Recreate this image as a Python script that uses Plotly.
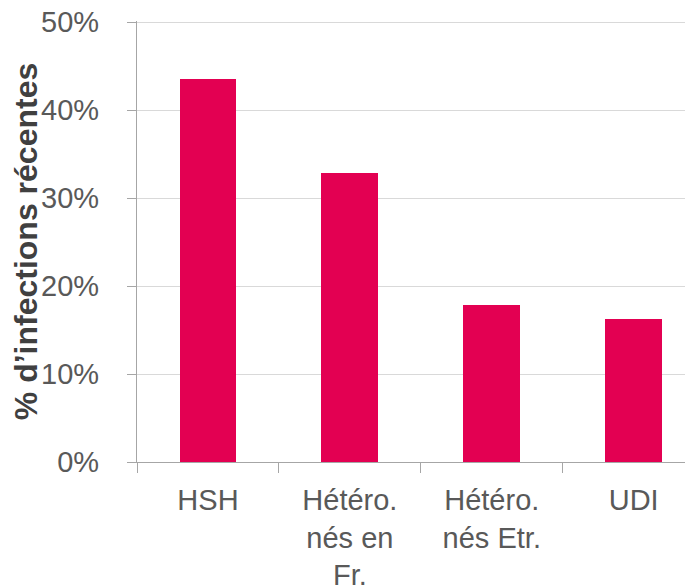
import plotly.graph_objects as go

categories = ["HSH", "Hétéro.<br>nés en<br>Fr.", "Hétéro.<br>nés Etr.", "UDI"]
values = [43.6, 32.9, 17.8, 16.3]
y_ticks = [0, 10, 20, 30, 40, 50]
y_tick_labels = ["0%", "10%", "20%", "30%", "40%", "50%"]
y_title = "% d’infections récentes"

FONT = "Liberation Sans, Arial, sans-serif"
AXIS_GREY = "#A6A6A6"

fig = go.Figure(go.Bar(
    x=list(range(len(categories))),
    y=values,
    width=0.4,
    marker=dict(color="#E30052", line=dict(width=0)),
))

fig.update_layout(
    width=693, height=585,
    margin=dict(l=129, r=8, t=13, b=131),
    paper_bgcolor="white", plot_bgcolor="white",
    showlegend=False,
    font=dict(family=FONT, color="#595959", size=29),
    bargap=0,
)
fig.update_xaxes(
    type="linear",
    range=[-0.5, 3.418],
    tickmode="array",
    tickvals=list(range(len(categories))),
    ticktext=categories,
    showgrid=False,
    showline=True, linecolor=AXIS_GREY, linewidth=1.3,
    ticks="",
    ticklabelstandoff=12,
    ticklabeloverflow="allow",
    tickfont=dict(size=29, color="#595959"),
    zeroline=False,
    automargin=False,
    fixedrange=True,
)
# category boundary ticks drawn as minor ticks
fig.update_xaxes(
    minor=dict(tickmode="array", tickvals=[-0.5, 0.5, 1.5, 2.5], ticks="outside",
               ticklen=10, tickcolor=AXIS_GREY, tickwidth=1.3, showgrid=False),
)
fig.update_yaxes(
    range=[0, 50.15],
    tickmode="array", tickvals=y_ticks, ticktext=y_tick_labels,
    showgrid=True, gridcolor="#D9D9D9", gridwidth=1.3,
    showline=True, linecolor=AXIS_GREY, linewidth=1.3,
    ticks="outside", ticklen=9, tickcolor=AXIS_GREY, tickwidth=1.3,
    ticklabelstandoff=22,
    ticklabeloverflow="allow",
    tickfont=dict(size=29, color="#595959"),
    zeroline=False,
    automargin=False,
    title=dict(text="<b>" + y_title + "</b>", font=dict(size=32, color="#404040"), standoff=13),
)

fig.write_html("out.html")
